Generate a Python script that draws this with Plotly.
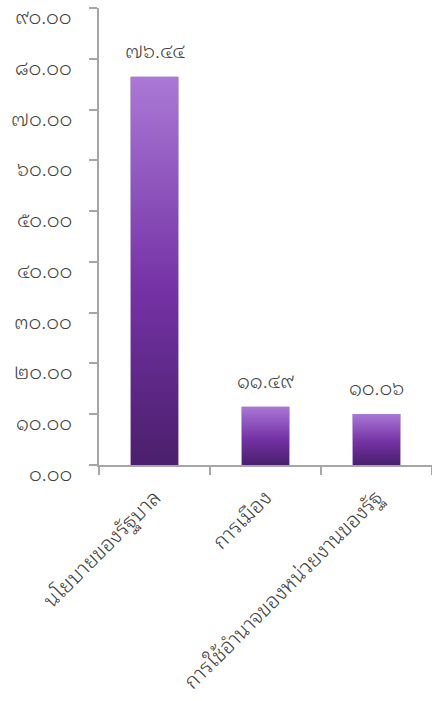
import base64
import plotly.graph_objects as go

# ---- data ----
categories = ["นโยบายของรัฐบาล", "การเมือง", "การใช้อำนาจของหน่วยงานของรัฐ"]
values = [76.44, 11.49, 10.06]
y_ticks = [0, 10, 20, 30, 40, 50, 60, 70, 80, 90]

THAI = str.maketrans("0123456789", "๐๑๒๓๔๕๖๗๘๙")


def thai(s):
    return s.translate(THAI)


y_ticktext = [thai(f"{v:.2f}") for v in y_ticks]
value_labels = [thai(f"{v:.2f}") for v in values]

FONT = "Noto Sans Thai Looped, Noto Serif Thai, Loma, Garuda, Waree, Tahoma, Noto Sans Thai, sans-serif"
AXIS_COLOR = "#A6A6A6"
TEXT_COLOR = "#404040"
WEIGHT = 300
BAR_W = 0.43

svg = (
    '<svg xmlns="http://www.w3.org/2000/svg" width="20" height="200" preserveAspectRatio="none">'
    '<defs><linearGradient id="g" x1="0" y1="0" x2="0" y2="1">'
    '<stop offset="0" stop-color="#AA78D6"/>'
    '<stop offset="0.55" stop-color="#7432A4"/>'
    '<stop offset="1" stop-color="#4A1F6C"/>'
    '</linearGradient></defs>'
    '<rect width="20" height="200" fill="url(#g)"/></svg>'
)
grad_src = "data:image/svg+xml;base64," + base64.b64encode(svg.encode()).decode()

xs = list(range(len(categories)))

fig = go.Figure()
fig.add_trace(go.Bar(
    x=xs, y=values, width=BAR_W,
    marker=dict(color="#7432A4", line=dict(width=0)),
    hoverinfo="skip", showlegend=False,
))

images = []
for i, v in zip(xs, values):
    images.append(dict(
        source=grad_src, xref="x", yref="y",
        x=i - BAR_W / 2, y=v, sizex=BAR_W, sizey=v,
        xanchor="left", yanchor="top", sizing="stretch", layer="above",
    ))

annotations = []
for i, v, t in zip(xs, values, value_labels):
    annotations.append(dict(
        x=i, y=v, xref="x", yref="y", text=t, showarrow=False,
        yanchor="bottom", yshift=10,
        font=dict(family=FONT, size=20, color=TEXT_COLOR, weight=WEIGHT),
    ))

# y-axis tick labels (sit slightly below their tick marks, as in the reference)
for v, t in zip(y_ticks, y_ticktext):
    annotations.append(dict(
        x=0, y=v, xref="paper", yref="y", text=t, showarrow=False,
        xanchor="right", yanchor="middle", xshift=-25, yshift=-7,
        font=dict(family=FONT, size=20, color=TEXT_COLOR, weight=WEIGHT),
    ))

fig.update_layout(
    width=432, height=701,
    margin=dict(l=99, r=0, t=8, b=236, autoexpand=False),
    paper_bgcolor="white", plot_bgcolor="white",
    images=images, annotations=annotations,
    xaxis=dict(
        range=[-0.5, 2.5], tickmode="array", tickvals=xs, ticktext=categories,
        tickangle=-45, ticks="", showgrid=False, zeroline=False,
        showline=True, linecolor=AXIS_COLOR, linewidth=2, automargin=False,
        ticklabelstandoff=10, ticklabeloverflow="allow",
        tickfont=dict(family=FONT, size=21, color=TEXT_COLOR, weight=WEIGHT),
        minor=dict(tick0=-0.5, dtick=1, ticks="outside", ticklen=8,
                   tickcolor=AXIS_COLOR, tickwidth=1.5, showgrid=False),
    ),
    yaxis=dict(
        range=[0, 90], tickmode="array", tickvals=y_ticks,
        showticklabels=False,
        ticks="outside", ticklen=8, tickcolor=AXIS_COLOR, tickwidth=1.5,
        showgrid=False, zeroline=False, automargin=False,
        showline=True, linecolor=AXIS_COLOR, linewidth=2,
    ),
)

fig.write_html("out.html")
